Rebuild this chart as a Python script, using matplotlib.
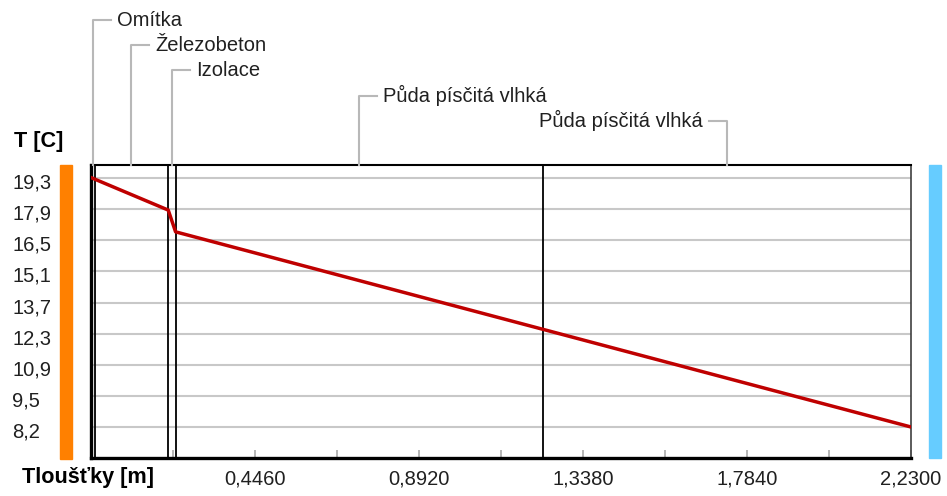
import numpy as np
import matplotlib
matplotlib.use("Agg")
import matplotlib.pyplot as plt
from matplotlib.patches import Rectangle
from matplotlib.transforms import blended_transform_factory, ScaledTranslation

# wall layers (inside -> outside)
layer_names = ["Omítka", "Železobeton", "Izolace", "Půda písčitá vlhká", "Půda písčitá vlhká"]
layer_thick = [0.01, 0.20, 0.02, 1.00, 1.00]

# temperature at the layer boundaries [C]
boundary_temp = [19.32, 19.25, 17.87, 16.90, 12.55, 8.20]

y_tick_labels = ["19,3", "17,9", "16,5", "15,1", "13,7", "12,3", "10,9", "9,5", "8,2"]
x_tick_values = [0.446, 0.892, 1.338, 1.784, 2.230]

plt.rcParams["font.family"] = ["Liberation Sans", "DejaVu Sans"]
FS = 14.5
FS_BOLD = 15.6

W, H = 947, 496
fig = plt.figure(figsize=(W / 100, H / 100), dpi=100)
fig.patch.set_facecolor("white")


def fx(px):
    return px / W


def fy(py):
    return 1 - py / H


# plot box in pixels
left, right, top, bottom = 91, 911, 165, 458
ax = fig.add_axes([fx(left), fy(bottom), fx(right - left), (bottom - top) / H])

bounds = np.concatenate([[0], np.cumsum(layer_thick)])
t_max, t_min = 19.3, 8.2
grid_top, grid_bot = 178, 427  # pixel rows of first / last grid line
ppu = (grid_bot - grid_top) / (t_max - t_min)
ax.set_xlim(0, bounds[-1])
ax.set_ylim(t_min - (bottom - grid_bot) / ppu, t_max + (grid_top - top) / ppu)

# horizontal grid
yticks = np.linspace(t_max, t_min, len(y_tick_labels))
for yv in yticks:
    ax.axhline(yv, color="#c8c8c8", lw=1.5, zorder=1)

# layer boundaries
for b in bounds[1:-1]:
    ax.axvline(b, color="black", lw=1.3, zorder=2)

# temperature profile
ax.plot(bounds, boundary_temp, color="#bf0000", lw=2.5, zorder=3, solid_joinstyle="round")

# x ticks: every 0.223, labels every second one
ax.set_xticks(x_tick_values)
ax.set_xticklabels([f"{v:.4f}".replace(".", ",") for v in x_tick_values], fontsize=FS, color="#202020")
ax.set_xticks(np.array(x_tick_values) - 0.223, minor=True)
ax.tick_params(axis="x", which="both", direction="in", length=6, width=1.3, color="#b0b0b0", pad=8)
ax.set_yticks([])

for s in ["left", "bottom"]:
    ax.spines[s].set_linewidth(2.4)
ax.spines["top"].set_linewidth(1.5)
ax.spines["right"].set_linewidth(1.2)
ax.spines["right"].set_color("#404040")

# y labels, left aligned at the figure edge
tr = blended_transform_factory(fig.transFigure, ax.transData) + ScaledTranslation(0, -0.05, fig.dpi_scale_trans)
for yv, lab in zip(yticks, y_tick_labels):
    ax.text(fx(12), yv, lab, transform=tr, ha="left", va="center", fontsize=FS, color="#202020")

fig.text(fx(14), fy(141), "T [C]", ha="left", va="center", fontsize=FS_BOLD, fontweight="bold")
fig.text(fx(22), fy(478), "Tloušťky [m]", ha="left", va="center", fontsize=FS_BOLD, fontweight="bold")

# inside / outside colour bars
fig.patches.append(Rectangle((fx(60), fy(459)), fx(12), (459 - 165) / H, transform=fig.transFigure, color="#ff8000"))
fig.patches.append(Rectangle((fx(929), fy(458)), fx(12), (458 - 165) / H, transform=fig.transFigure, color="#66ccff"))

# layer name callouts
xpx = lambda v: left + (right - left) * v / bounds[-1]
for i, name in enumerate(layer_names):
    mid = xpx((bounds[i] + bounds[i + 1]) / 2)
    ly = 20 + 25.2 * i
    side = 1 if i < len(layer_names) - 1 else -1
    fig.add_artist(plt.Line2D([fx(mid), fx(mid), fx(mid + side * 18)], [fy(top), fy(ly), fy(ly)],
                              transform=fig.transFigure, color="#b8b8b8", lw=1.5))
    fig.text(fx(mid + side * 24), fy(ly), name, ha="left" if side > 0 else "right", va="center",
             fontsize=FS, color="#202020")

fig.savefig("out.png", dpi=100)
